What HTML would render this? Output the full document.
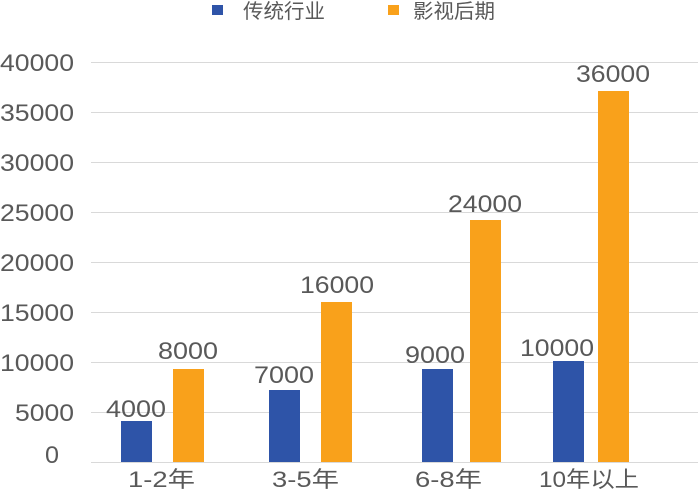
<!DOCTYPE html>
<html><head><meta charset="utf-8"><style>
body{margin:0;background:#fff;}
svg text{font-family:"Liberation Sans","Noto Sans CJK SC",sans-serif;fill:#595959;}
</style></head><body>
<svg width="698" height="493" xmlns="http://www.w3.org/2000/svg">
<g stroke="#d9d9d9" stroke-width="1">
<line x1="91" x2="698" y1="62.5" y2="62.5"/><line x1="91" x2="698" y1="112.5" y2="112.5"/>
<line x1="91" x2="698" y1="162.5" y2="162.5"/><line x1="91" x2="698" y1="212.5" y2="212.5"/>
<line x1="91" x2="698" y1="262.5" y2="262.5"/><line x1="91" x2="698" y1="312.5" y2="312.5"/>
<line x1="91" x2="698" y1="362.5" y2="362.5"/><line x1="91" x2="698" y1="412.5" y2="412.5"/>
<line x1="91" x2="698" y1="462.5" y2="462.5"/>
</g>
<g font-size="24">
<text x="0" y="71" textLength="74" lengthAdjust="spacingAndGlyphs">40000</text><text x="0" y="121" textLength="74" lengthAdjust="spacingAndGlyphs">35000</text><text x="0" y="171" textLength="74" lengthAdjust="spacingAndGlyphs">30000</text>
<text x="0" y="221" textLength="74" lengthAdjust="spacingAndGlyphs">25000</text><text x="0" y="271" textLength="74" lengthAdjust="spacingAndGlyphs">20000</text><text x="0" y="321" textLength="74" lengthAdjust="spacingAndGlyphs">15000</text>
<text x="0" y="371" textLength="74" lengthAdjust="spacingAndGlyphs">10000</text><text x="15" y="421" textLength="59" lengthAdjust="spacingAndGlyphs">5000</text><text x="45" y="463" textLength="14" lengthAdjust="spacingAndGlyphs">0</text>
</g>
<g fill="#2E54A8">
<rect x="121" y="421" width="31" height="41"/><rect x="269" y="390" width="31" height="72"/>
<rect x="422" y="369" width="31" height="93"/><rect x="553" y="361" width="31" height="101"/>
</g>
<g fill="#F9A11B">
<rect x="173" y="369" width="31" height="93"/><rect x="321" y="302" width="31" height="160"/>
<rect x="470" y="220" width="31" height="242"/><rect x="598" y="91" width="31" height="371"/>
</g>
<g font-size="24">
<text x="106" y="417" textLength="60" lengthAdjust="spacingAndGlyphs">4000</text><text x="158" y="359" textLength="60" lengthAdjust="spacingAndGlyphs">8000</text>
<text x="254" y="383" textLength="60" lengthAdjust="spacingAndGlyphs">7000</text><text x="300" y="293" textLength="74" lengthAdjust="spacingAndGlyphs">16000</text>
<text x="405" y="363" textLength="60" lengthAdjust="spacingAndGlyphs">9000</text><text x="448" y="212" textLength="74" lengthAdjust="spacingAndGlyphs">24000</text>
<text x="520" y="356" textLength="74" lengthAdjust="spacingAndGlyphs">10000</text><text x="576" y="82" textLength="74" lengthAdjust="spacingAndGlyphs">36000</text>
</g>
<g font-size="22">
<text x="128" y="487" textLength="67" lengthAdjust="spacingAndGlyphs">1-2年</text><text x="272" y="487" textLength="67" lengthAdjust="spacingAndGlyphs">3-5年</text>
<text x="415" y="487" textLength="67" lengthAdjust="spacingAndGlyphs">6-8年</text><text x="539" y="487" textLength="100" lengthAdjust="spacingAndGlyphs">10年以上</text>
</g>
<rect x="212" y="5" width="11" height="10" fill="#2E54A8"/>
<text x="243" y="18" font-size="20" textLength="82" lengthAdjust="spacingAndGlyphs">传统行业</text>
<rect x="388" y="5" width="11" height="10" fill="#F9A11B"/>
<text x="413" y="18" font-size="20" textLength="82" lengthAdjust="spacingAndGlyphs">影视后期</text>
</svg>
</body></html>
